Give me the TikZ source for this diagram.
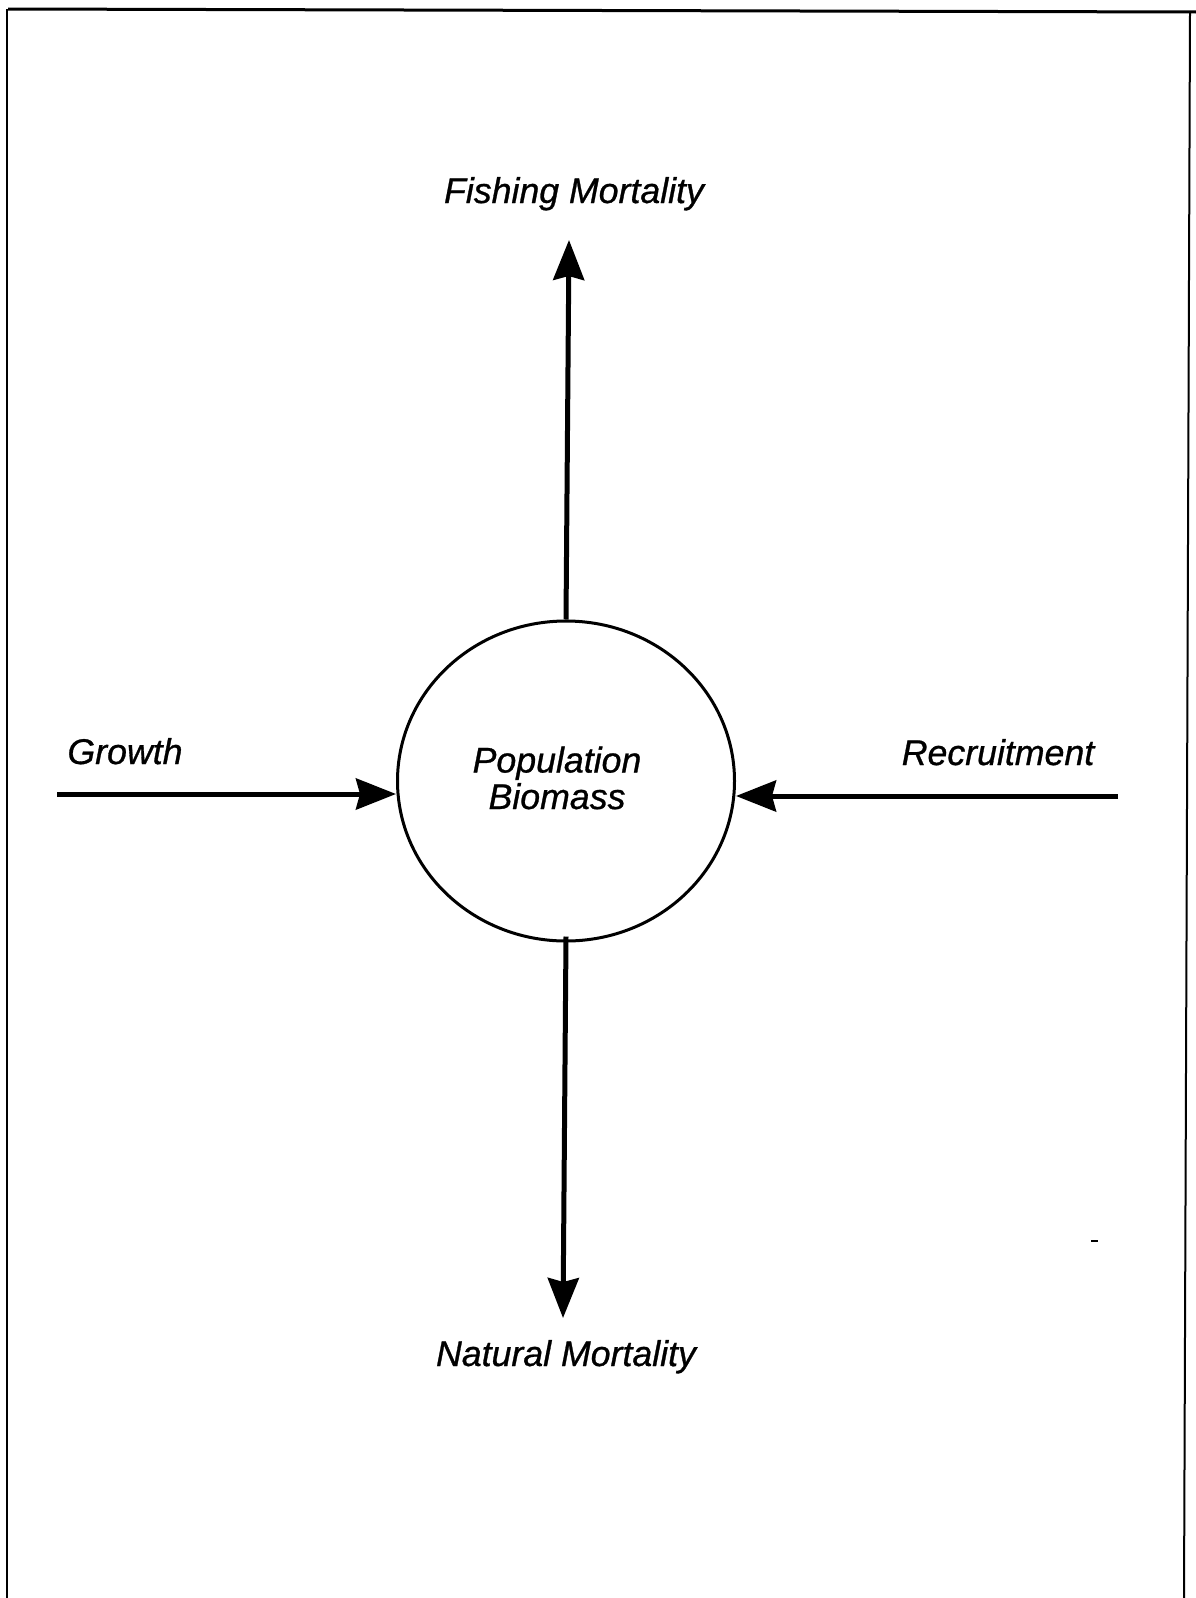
\documentclass[tikz,border=0pt]{standalone}
\usepackage{fontspec}
\setmainfont{Liberation Sans}[ItalicFeatures={FakeBold=0.8}]
\usetikzlibrary{arrows.meta,shapes.geometric}
\begin{document}
\begin{tikzpicture}[x=1pt,y=-1pt,
  lbl/.style={font=\fontsize{35.7}{36.5}\selectfont\itshape, inner sep=0pt, anchor=base},
  flow/.style={line width=5pt, -{Stealth[length=40pt,width=31pt,inset=4pt]}},
  frame/.style={line width=2pt}]
\useasboundingbox (0,0) rectangle (1196,1598);
% frame
\draw[line width=3pt] (8,9) -- (1196,12);
\draw[line width=1.5pt] (7,9) -- (7,1598);
\draw[frame] (1190,12) -- (1184,1598);
% central node
\node[ellipse, draw, line width=3pt, minimum width=337pt, minimum height=320pt, inner sep=0pt] (pb) at (566,781) {};
\node[lbl, align=center] (pbt) at (557,809) {Population\\Biomass};
% labels
\node[lbl] (fm) at (574,203) {Fishing Mortality};
\node[lbl] (nm) at (566,1366) {Natural Mortality};
\node[lbl] (gr) at (125,764) {Growth};
\node[lbl] (rc) at (998,765) {Recruitment};
% connector ends
\coordinate (fmtip) at (569,240);
\coordinate (nmtip) at (563,1318);
\coordinate (grstart) at (57,794);
\coordinate (rcstart) at (1118,796);
% connectors
\draw[flow] (pb.north) -- (fmtip);
\draw[flow] ([yshift=6pt]pb.south) -- (nmtip);
\draw[flow] (grstart) -- (grstart -| pb.west);
\draw[flow] (rcstart) -- (rcstart -| pb.east);
% small dash
\draw[line width=2.5pt] (1091,1241) -- (1098,1241);
\end{tikzpicture}
\end{document}
